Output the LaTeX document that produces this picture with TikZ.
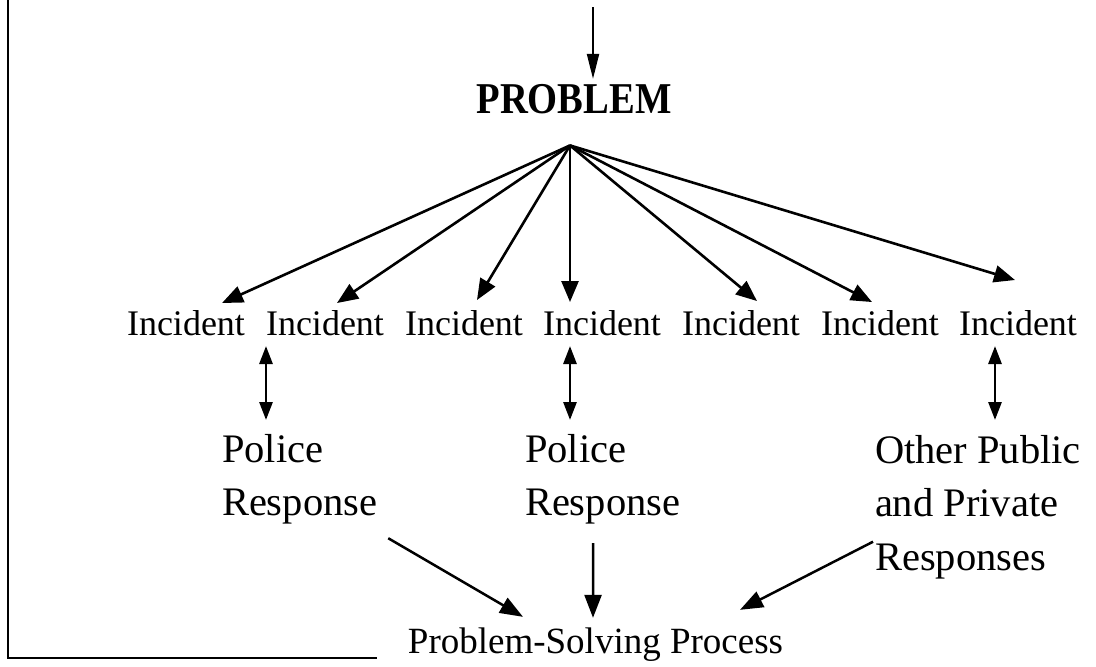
\documentclass[tikz,border=0pt]{standalone}
\usepackage{fontspec}
\usepackage{graphicx}
\setmainfont{Liberation Serif}
\usetikzlibrary{arrows.meta}
\begin{document}
\begin{tikzpicture}[x=1pt,y=-1pt,
  txt/.style={inner sep=0pt, outer sep=0pt},
  title/.style={txt, anchor=base, font=\fontsize{44}{48}\selectfont\bfseries},
  incident/.style={txt, anchor=base, font=\fontsize{36}{40}\selectfont},
  response/.style={txt, anchor=north west, align=left, font=\fontsize{40.5}{53.5}\selectfont},
  process/.style={txt, anchor=base, font=\fontsize{37}{40}\selectfont},
  feed/.style={line width=2pt, -{Triangle[length=25pt,width=12pt]}},
  fan/.style={line width=2.6pt, -{Triangle[length=21pt,width=17pt]}},
  link/.style={line width=2.8pt, {Triangle[length=18pt,width=13pt]}-{Triangle[length=18pt,width=13pt]}},
  merge/.style={line width=2.5pt, -{Triangle[length=23pt,width=17pt]}},
  frame/.style={line width=2.8pt, line cap=rect}]

\useasboundingbox (0,0) rectangle (1096,667);

% frame on the left and bottom
\draw[frame] (8,0) -- (8,658) -- (376,658);

% problem and its source
\node[title] (prob) at (574,113) {\scalebox{0.877}[1]{PROBLEM}};
\coordinate (src) at (593,7);
\coordinate (apex) at ([shift={(-4,32)}]prob.south);
\draw[feed] (src) -- ([shift={(19,-5)}]prob.north);

% incidents
\node[incident] (i1) at (186,335) {Incident};
\node[incident] (i2) at (325,335) {Incident};
\node[incident] (i3) at (464,335) {Incident};
\node[incident] (i4) at (602,335) {Incident};
\node[incident] (i5) at (741,335) {Incident};
\node[incident] (i6) at (880,335) {Incident};
\node[incident] (i7) at (1018,335) {Incident};

\draw[fan] (apex) -- ([shift={(36,-7)}]i1.north);
\draw[fan] (apex) -- ([shift={(12,-7)}]i2.north);
\draw[fan] (apex) -- ([shift={(13,-10)}]i3.north);
\draw[fan] (apex) -- ([shift={(-32,-8)}]i4.north);
\draw[fan] (apex) -- ([shift={(16,-9)}]i5.north);
\draw[fan] (apex) -- ([shift={(-8,-8)}]i6.north);
\draw[fan] (apex) -- ([shift={(-3,-30)}]i7.north);

% responses
\node[response] (r1) at (222,434) {Police\\Response};
\node[response] (r2) at (525,434) {Police\\Response};
\node[response] (r3) at (875,435) {Other Public\\and Private\\Responses};

\draw[link] ([shift={(-59,11)}]i2.base) -- ([shift={(44,-14)}]r1.north west);
\draw[link] ([shift={(-32,11)}]i4.base) -- ([shift={(45,-14)}]r2.north west);
\draw[link] ([shift={(-23,11)}]i7.base) -- ([shift={(120,-15)}]r3.north west);

% problem-solving process
\node[process] (proc) at (595.5,653) {Problem-Solving Process};

\draw[merge] ([shift={(11,14)}]r1.south east) -- ([shift={(-72.5,-10.5)}]proc.north);
\draw[merge] ([shift={(-9.5,19)}]r2.south) -- ([shift={(-2.5,-9.5)}]proc.north);
\draw[merge] ([shift={(-2,-37)}]r3.south west) -- ([shift={(144.5,-17.5)}]proc.north);
\end{tikzpicture}
\end{document}
